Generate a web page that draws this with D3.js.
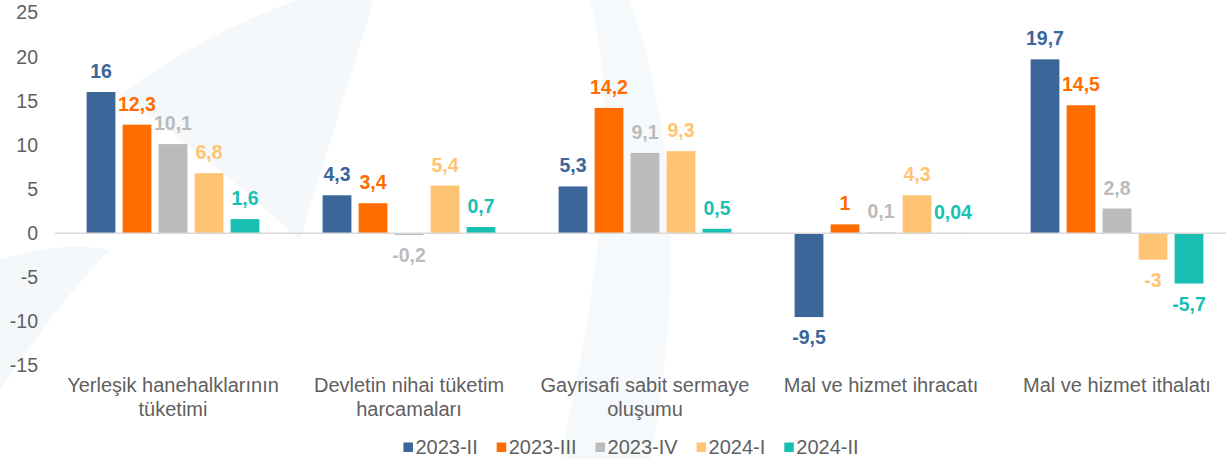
<!DOCTYPE html>
<html>
<head>
<meta charset="utf-8">
<script src="https://cdn.jsdelivr.net/npm/d3@7"></script>
<style>
  body { margin: 0; background: #fff; }
  svg { display: block; font-family: "Liberation Sans", Arial, sans-serif; }
</style>
</head>
<body>
<svg id="chart"></svg>
<script>
const categories = [
  ["Yerleşik hanehalklarının", "tüketimi"],
  ["Devletin nihai tüketim", "harcamaları"],
  ["Gayrisafi sabit sermaye", "oluşumu"],
  ["Mal ve hizmet ihracatı"],
  ["Mal ve hizmet ithalatı"],
];
const seriesNames = ["2023-II", "2023-III", "2023-IV", "2024-I", "2024-II"];
const seriesColors = ["#3a6699", "#ff6d00", "#bbbbbb", "#ffc473", "#19bfb3"];
const values2023II = [16, 4.3, 5.3, -9.5, 19.7];
const values2023III = [12.3, 3.4, 14.2, 1, 14.5];
const values2023IV = [10.1, -0.2, 9.1, 0.1, 2.8];
const values2024I = [6.8, 5.4, 9.3, 4.3, -3];
const values2024II = [1.6, 0.7, 0.5, 0.04, -5.7];
const yTicks = [-15, -10, -5, 0, 5, 10, 15, 20, 25];

const allValues = [values2023II, values2023III, values2023IV, values2024I, values2024II];

const width = 1226;
const height = 459;
const textColor = "#5f5f5f";

const svg = d3.select("#chart").attr("width", width).attr("height", height);

// faint watermark shapes in the background
svg.append("path")
  .attr("d", "M 120 95 Q 250 0 380 -20 L 300 240 Q 200 150 120 95 Z")
  .attr("fill", "#f5f8fb");
svg.append("path")
  .attr("d", "M 590 0 Q 630 150 560 459 L 650 459 Q 700 200 630 0 Z")
  .attr("fill", "#f6f9fb");
svg.append("path")
  .attr("d", "M 0 260 Q 60 240 110 250 Q 60 300 0 390 Z")
  .attr("fill", "#f5f8fb");

const catIndex = d3.range(categories.length);

const x = d3.scaleBand().domain(catIndex).range([55, 1235]);
const xInner = d3.scaleBand()
  .domain(d3.range(seriesNames.length))
  .range([-90, 90])
  .paddingInner(0.2)
  .paddingOuter(0.1);
const y = d3.scaleLinear().domain([-15, 25]).range([365.6, 12.6]);

// y axis labels
svg.append("g")
  .selectAll("text")
  .data(yTicks)
  .enter()
  .append("text")
  .attr("x", 38)
  .attr("y", (d) => y(d))
  .attr("dy", "0.35em")
  .attr("text-anchor", "end")
  .attr("fill", textColor)
  .style("font-size", "19.5px")
  .text((d) => d);

// bars
const groups = svg.append("g")
  .selectAll("g")
  .data(allValues)
  .enter()
  .append("g")
  .attr("fill", (d, i) => seriesColors[i]);

groups.selectAll("rect")
  .data((vals, s) => vals.map((v, c) => ({ v, c, s })))
  .enter()
  .append("rect")
  .attr("x", (d) => x(d.c) + x.bandwidth() / 2 + xInner(d.s))
  .attr("width", xInner.bandwidth())
  .attr("y", (d) => y(Math.max(0, d.v)))
  .attr("height", (d) => Math.abs(y(d.v) - y(0)));

// zero line
svg.append("line")
  .attr("x1", 55)
  .attr("x2", width)
  .attr("y1", y(0))
  .attr("y2", y(0))
  .attr("stroke", "#d9d9d9")
  .attr("stroke-width", 1.5);

// value labels
groups.selectAll("text")
  .data((vals, s) => vals.map((v, c) => ({ v, c, s })))
  .enter()
  .append("text")
  .attr("x", (d) => x(d.c) + x.bandwidth() / 2 + xInner(d.s) + xInner.bandwidth() / 2)
  .attr("y", (d) => (d.v >= 0 ? y(d.v) - 14 : y(d.v) + 27))
  .attr("text-anchor", "middle")
  .style("font-size", "19.5px")
  .style("font-weight", "bold")
  .text((d) => String(d.v).replace(".", ","));

// category labels
const catLabels = svg.append("g")
  .selectAll("text")
  .data(categories)
  .enter()
  .append("text")
  .attr("x", (d, i) => x(i) + x.bandwidth() / 2)
  .attr("y", 392)
  .attr("text-anchor", "middle")
  .attr("fill", textColor)
  .style("font-size", "20px");

catLabels.selectAll("tspan")
  .data((d) => d)
  .enter()
  .append("tspan")
  .attr("x", function () {
    return d3.select(this.parentNode).attr("x");
  })
  .attr("dy", (d, i) => (i === 0 ? 0 : 24))
  .text((d) => d);

// legend, centred under the plot
const legend = svg.append("g").attr("transform", "translate(0, 447)");
const legendItems = legend
  .selectAll("g")
  .data(seriesNames)
  .enter()
  .append("g");

legendItems.append("rect")
  .attr("x", 0)
  .attr("y", -4.5)
  .attr("width", 9.5)
  .attr("height", 9.5)
  .attr("fill", (d, i) => seriesColors[i]);

legendItems.append("text")
  .attr("x", 12)
  .attr("y", 0)
  .attr("dy", "0.35em")
  .attr("fill", textColor)
  .style("font-size", "20px")
  .text((d) => d);

let legendPos = 0;
const legendOffsets = [];
legendItems.each(function () {
  legendOffsets.push(legendPos);
  const w = d3.select(this).select("text").node().getComputedTextLength();
  legendPos += 12 + w + 19;
});
const legendTotal = legendPos - 19;
const legendStart = 631 - legendTotal / 2;
legendItems.attr("transform", (d, i) => "translate(" + (legendStart + legendOffsets[i]) + ", 0)");
</script>
</body>
</html>
